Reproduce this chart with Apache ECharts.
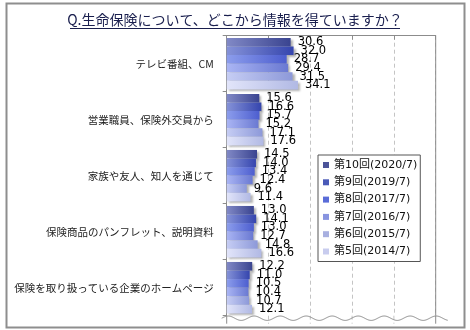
<!DOCTYPE html>
<html><head><meta charset="utf-8">
<script src="https://cdn.jsdelivr.net/npm/echarts@6/dist/echarts.min.js"></script>
<style>html,body{margin:0;padding:0;background:#fff}#c{width:470px;height:330px}</style>
</head><body><div id="c"></div>
<script>
const categories = ['テレビ番組、CM','営業職員、保険外交員から','家族や友人、知人を通じて','保険商品のパンフレット、説明資料','保険を取り扱っている企業のホームページ'];
const seriesNames = ['第10回(2020/7)','第9回(2019/7)','第8回(2017/7)','第7回(2016/7)','第6回(2015/7)','第5回(2014/7)'];
const r10 = [30.6, 15.6, 14.5, 13.0, 12.2];
const r9  = [32.0, 16.6, 14.0, 14.1, 11.0];
const r8  = [28.7, 15.7, 13.4, 13.0, 10.5];
const r7  = [29.4, 15.2, 12.4, 12.7, 10.4];
const r6  = [31.5, 17.1,  9.6, 14.8, 10.7];
const r5  = [34.1, 17.6, 11.4, 16.6, 12.1];
const values = [r10, r9, r8, r7, r6, r5];
const xTicks = [0, 20, 40, 60, 80, 100];

const gradLeft  = ['#8189c6','#8592d8','#8c9dec','#aab5f4','#c6cdf4','#e2e5fa'];
const gradRight = ['#3a4490','#3545ae','#4d5ecf','#6a79d2','#8d99d9','#b1b9e4'];
const legendColors = ['#4c5499','#4a5ab8','#5a6cd8','#8894e0','#a8b0e0','#c8ccee'];

const chart = echarts.init(document.getElementById('c'), null, {renderer:'canvas'});
const gridTop = 35.7, gridLeft = 226.7, gridRight = 34.3, gridH = 280;

const series = seriesNames.map((n, i) => ({
  name: n, type: 'bar', data: values[i], barGap: '0%', barCategoryGap: '8%',
  itemStyle: {
    color: new echarts.graphic.LinearGradient(0,0,1,0,[{offset:0,color:gradLeft[i]},{offset:1,color:gradRight[i]}]),
    shadowColor: 'rgba(0,0,0,0.3)', shadowOffsetX: 2, shadowOffsetY: 2, shadowBlur: 2
  },
  label: { show: true, position: 'right', distance: 7, color: '#000',
    fontFamily: 'Tahoma, "DejaVu Sans", sans-serif', fontSize: 11.5,
    formatter: p => p.value.toFixed(1) },
  z: 2 + i
}));

chart.setOption({
  animation: false,
  backgroundColor: '#fff',
  title: { text: 'Q.生命保険について、どこから情報を得ていますか？', left: 'center', top: 8,
    textStyle: { fontFamily: '"Noto Sans CJK JP", sans-serif', fontSize: 14, fontWeight: 'normal', color: '#1a1f4e' } },
  legend: {
    orient: 'vertical', left: 318, top: 155,
    data: seriesNames.map((n,i)=>({name:n, itemStyle:{color:legendColors[i]}})),
    icon: 'rect', itemWidth: 6, itemHeight: 6, itemGap: 3.3,
    padding: [3, 3, 3, 5], borderColor: '#555', borderWidth: 1, backgroundColor: '#fff',
    textStyle: { fontFamily: '"DejaVu Sans", "Noto Sans CJK JP", sans-serif', fontSize: 11, color: '#111', lineHeight: 14 }
  },
  grid: { left: gridLeft, top: gridTop, right: gridRight, height: gridH, show: false },
  xAxis: { type: 'value', min: xTicks[0], max: xTicks[xTicks.length-1], interval: 20, position: 'top',
    axisLine: { show: true, lineStyle: { color: '#8c8c8c', width: 1 } },
    axisTick: { show: true, inside: true, length: 4, lineStyle: { color: '#8c8c8c' } },
    axisLabel: { show: false },
    splitLine: { show: true, lineStyle: { color: '#c4c4c4', type: [4,3] } } },
  yAxis: { type: 'category', data: categories, inverse: true,
    axisLine: { show: true, lineStyle: { color: '#8c8c8c' } },
    axisTick: { show: true, length: 4, lineStyle: { color: '#8c8c8c' } },
    axisLabel: { margin: 13, color: '#222', fontFamily: '"Noto Sans CJK JP", sans-serif', fontSize: 10.5 } },
  series: series
});

// decorations: frame, title underline, right border, axis break wave
const x0 = chart.convertToPixel({xAxisIndex:0}, xTicks[0]);
const xMax = chart.convertToPixel({xAxisIndex:0}, xTicks[xTicks.length-1]);
const bottom = gridTop + gridH;
const waveY = bottom + 2.5;
const period = 26;
const wavePts = [];
for (let x = x0 - 5; x <= xMax + 12; x += 1) {
  wavePts.push([x, waveY - 2.2 * Math.sin((x - (x0 - 5)) / period * 2 * Math.PI)]);
}
const stubs = xTicks.map((t, i) => {
  const px = chart.convertToPixel({xAxisIndex:0}, t);
  const solid = (i === 0 || i === xTicks.length-1);
  return { type: 'line', shape: { x1: px, y1: bottom, x2: px, y2: bottom+8 },
    style: { stroke: solid ? '#8c8c8c' : '#c4c4c4', lineWidth: 1, lineDash: solid ? null : [4,3] }, z: 1 };
});
chart.setOption({
  graphic: [
    { type: 'rect', shape: { x: 6.5, y: 3.5, width: 458, height: 324 }, style: { fill: 'none', stroke: '#8e8e8e', lineWidth: 2 }, z: 0 },
    { type: 'line', shape: { x1: 70, y1: 28.5, x2: 400, y2: 28.5 }, style: { stroke: '#1a1f4e', lineWidth: 1 }, z: 10 },
    { type: 'line', shape: { x1: xMax, y1: gridTop, x2: xMax, y2: bottom }, style: { stroke: '#8c8c8c', lineWidth: 1 }, z: 1 },
    ...stubs,
    { type: 'polyline', shape: { points: wavePts }, style: { fill: null, stroke: '#8c8c8c', lineWidth: 1 }, z: 10 }
  ]
});
</script></body></html>
